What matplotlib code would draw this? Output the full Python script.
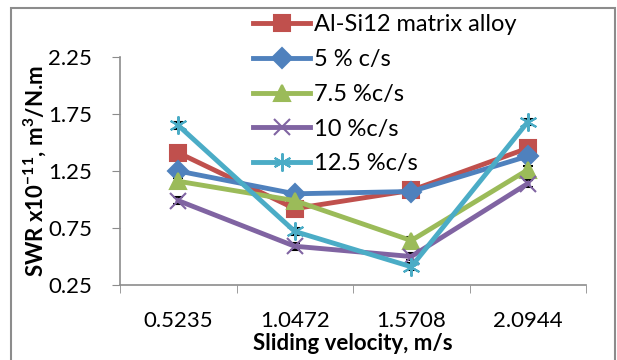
import numpy as np
import matplotlib.pyplot as plt
from matplotlib.patches import Rectangle

# Data
velocity = ['0.5235', '1.0472', '1.5708', '2.0944']
alsi12 = [1.41, 0.92, 1.08, 1.45]
cs5 = [1.25, 1.05, 1.07, 1.38]
cs75 = [1.16, 0.99, 0.64, 1.26]
cs10 = [0.99, 0.59, 0.50, 1.14]
cs125 = [1.65, 0.72, 0.41, 1.68]
err = [0.03, 0.03, 0.03, 0.03]

labels = ['Al-Si12 matrix alloy', '5 % c/s', '7.5 %c/s', '10 %c/s', '12.5 %c/s']
colors = ['#C0504D', '#4F81BD', '#9BBB59', '#8064A2', '#4BACC6']
markers = ['s', 'D', '^', 'x', (6, 2, 0)]
msizes = [12, 10, 12, 11, 13]

plt.rcParams['font.family'] = ['Lato', 'DejaVu Sans']
plt.rcParams['mathtext.fontset'] = 'custom'
plt.rcParams['mathtext.rm'] = 'Lato:bold'
plt.rcParams['mathtext.default'] = 'rm'

fig = plt.figure(figsize=(6.17, 3.6), dpi=100)
ax = fig.add_axes([120/617, 1 - 285/360, 466/617, 228/360])

# outer frame
fig.patches.append(Rectangle((11/617, -0.05), 604/617, 1 - 8/360 + 0.05,
                             transform=fig.transFigure, fill=False,
                             edgecolor='#8c8c8c', linewidth=1.5))

x = np.arange(len(velocity))
series = [alsi12, cs5, cs75, cs10, cs125]
handles = []
for s, lab, c, m, ms in zip(series, labels, colors, markers, msizes):
    ax.errorbar(x, s, yerr=err, fmt='none', ecolor='black', elinewidth=1.2,
                capsize=3.5, capthick=1.5, zorder=2)
    h, = ax.plot(x, s, color=c, lw=3.5, marker=m, ms=ms, mew=1.5,
                 mec=c, label=lab, zorder=3)
    handles.append(h)

ax.set_xlim(-0.5, 3.5)
ax.set_ylim(0.25, 2.25)
ax.set_yticks([0.25, 0.75, 1.25, 1.75, 2.25])
ax.set_yticklabels(['0.25', '0.75', '1.25', '1.75', '2.25'])
ax.set_xticks(x)
ax.set_xticklabels(velocity)
ax.set_xticks(np.arange(-0.5, 4.0, 1.0), minor=True)
ax.tick_params(axis='x', which='major', length=0, labelsize=16, pad=19)
ax.tick_params(axis='x', which='minor', length=6, color='#8c8c8c')
ax.tick_params(axis='y', length=6, color='#8c8c8c', labelsize=16, pad=14)
for sp in ['top', 'right']:
    ax.spines[sp].set_visible(False)
for sp in ['left', 'bottom']:
    ax.spines[sp].set_color('#8c8c8c')
    ax.spines[sp].set_linewidth(1.2)

ax.set_xlabel('Sliding velocity, m/s', fontsize=16, fontweight='bold', labelpad=1)
ax.set_ylabel('SWR x10$^{-11}$, m$^3$/N.m', fontsize=16, fontweight='bold', labelpad=0)

fig.legend(handles=handles, loc='upper left', bbox_to_anchor=(244/617, 1 - 5/360),
           frameon=False, fontsize=17, handlelength=2.4, labelspacing=0.58,
           handletextpad=0.15, borderaxespad=0)

fig.savefig('out.png', dpi=100)
